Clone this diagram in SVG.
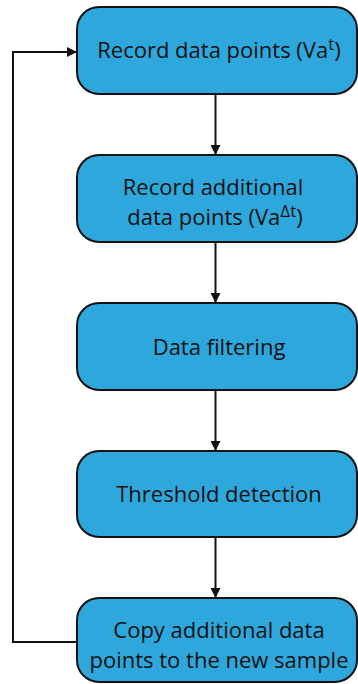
<svg xmlns="http://www.w3.org/2000/svg" width="358" height="684" viewBox="0 0 358 684">
<style>
.box{fill:#2ea8dc;stroke:#111;stroke-width:2}
.t{font-family:"Open Sans","Liberation Sans",sans-serif;font-size:22px;fill:#111;text-anchor:middle}
.c{fill:none;stroke:#111;stroke-width:2}
</style>
<defs>
<marker id="ah" viewBox="0 0 10 10" refX="10" refY="5" markerWidth="10" markerHeight="10" markerUnits="userSpaceOnUse" orient="auto">
<path d="M0,0 L10,5 L0,10 z" fill="#111"/>
</marker>
</defs>
<rect width="358" height="684" fill="#fff"/>
<g id="connectors">
<line class="c" x1="215.5" y1="94" x2="215.5" y2="155" marker-end="url(#ah)"/>
<line class="c" x1="215.5" y1="242" x2="215.5" y2="303" marker-end="url(#ah)"/>
<line class="c" x1="215.5" y1="390" x2="215.5" y2="451" marker-end="url(#ah)"/>
<line class="c" x1="215.5" y1="537" x2="215.5" y2="598" marker-end="url(#ah)"/>
<polyline class="c" points="77,642 13,642 13,52 77,52" marker-end="url(#ah)"/>
</g>
<g id="n1">
<rect class="box" x="77" y="7" width="280" height="87" rx="22"/>
<text class="t" x="219" y="58">Record data points (Va<tspan font-size="17" dy="-8">t</tspan><tspan dy="8">)</tspan></text>
</g>
<g id="n2">
<rect class="box" x="77" y="155" width="280" height="87" rx="22"/>
<text class="t" x="213" y="195">Record additional</text>
<text class="t" x="215" y="225">data points (Va<tspan font-size="17" dy="-8">Δt</tspan><tspan dy="8">)</tspan></text>
</g>
<g id="n3">
<rect class="box" x="77" y="303" width="280" height="87" rx="22"/>
<text class="t" x="219" y="355">Data filtering</text>
</g>
<g id="n4">
<rect class="box" x="77" y="451" width="280" height="86" rx="22"/>
<text class="t" x="219" y="502">Threshold detection</text>
</g>
<g id="n5">
<rect class="box" x="77" y="598" width="280" height="84" rx="22"/>
<text class="t" x="219" y="638">Copy additional data</text>
<text class="t" x="219" y="668">points to the new sample</text>
</g>
</svg>
